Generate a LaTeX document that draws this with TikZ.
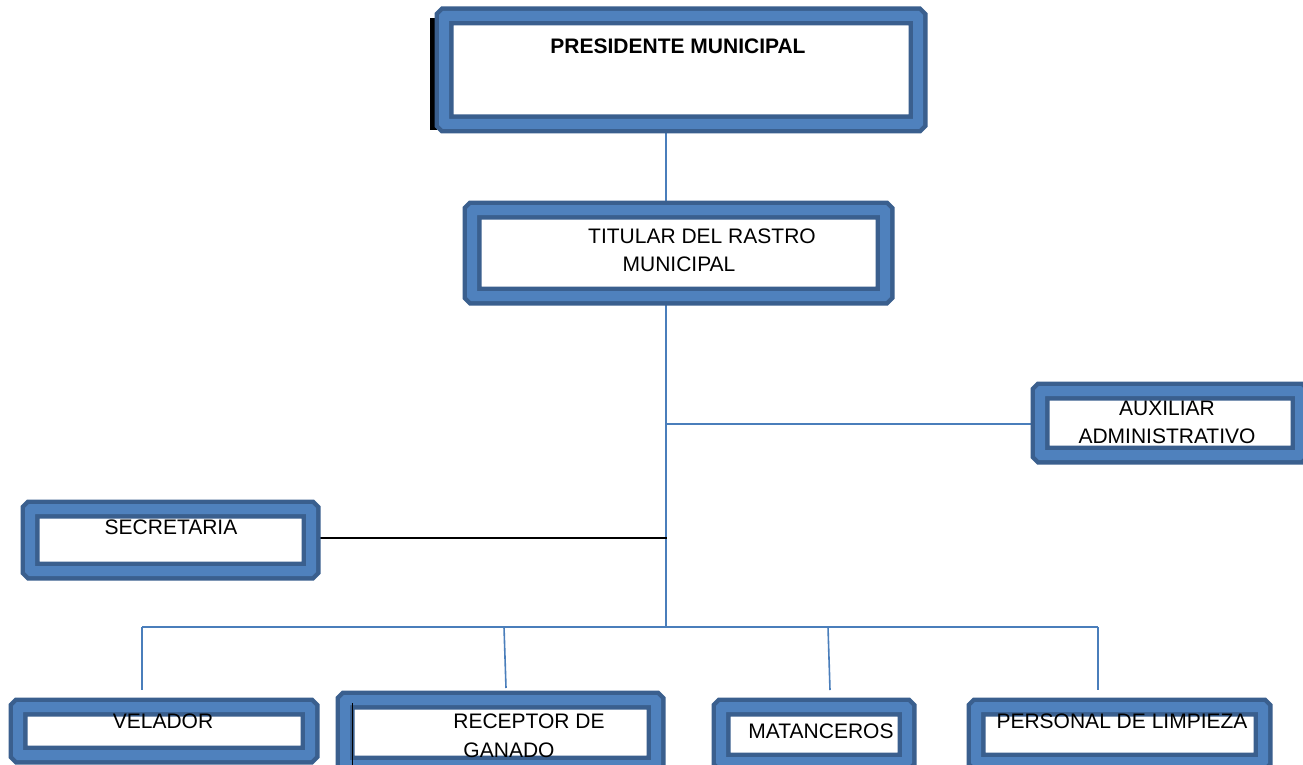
\documentclass[tikz,border=0pt]{standalone}
\usepackage{fontspec}
\setmainfont{Liberation Sans}
\usetikzlibrary{backgrounds}
\definecolor{bdark}{HTML}{3A5F8E}
\definecolor{blight}{HTML}{4F81BD}
\definecolor{lineblue}{HTML}{4A7EBB}
\begin{document}
\begin{tikzpicture}[x=1pt,y=-1pt,
  obox/.style={draw=bdark, line width=4.5pt, double=blight, double distance=10pt,
    fill=white, inner sep=0pt, rectangle, rounded corners=1pt},
  conn/.style={draw=lineblue, line width=1.6pt},
  blackconn/.style={draw=black, line width=1.6pt},
  lbl/.style={font=\fontsize{21}{28}\selectfont, inner sep=0pt, anchor=center}]
\useasboundingbox (0,0) rectangle (1303,765);
\clip (0,0) rectangle (1303,765);

% spine and junction coordinates
\coordinate (spine) at (666,0);
\coordinate (jaux) at (666,424);
\coordinate (jsec) at (667,538);
\coordinate (jbus) at (666,627);
\coordinate (b1) at (142,627);
\coordinate (b2) at (504,627);
\coordinate (b3) at (828,627);
\coordinate (b4) at (1098,627);
\coordinate (d1) at (142,690);
\coordinate (d2) at (506,688);
\coordinate (d3) at (830,690);
\coordinate (d4) at (1098,690);

% boxes
\fill[black] (430,18) rectangle (437,130);
\node[obox, minimum width=474pt, minimum height=108pt] (pres) at (681,70) {};
\node[obox, minimum width=413pt, minimum height=86pt] (tit) at (678.5,253) {};
\node[obox, minimum width=260pt, minimum height=64pt] (aux) at (1170,423) {};
\node[obox, minimum width=281pt, minimum height=62pt] (sec) at (170.5,540) {};
\node[obox, minimum width=292pt, minimum height=48pt] (vel) at (164,731) {};
\node[obox, minimum width=311pt, minimum height=65pt] (rec) at (500.5,732.5) {};
\node[obox, minimum width=186pt, minimum height=55pt] (mat) at (814,734.5) {};
\node[obox, minimum width=287pt, minimum height=55pt] (per) at (1119.5,734.5) {};

% connectors (behind boxes)
\begin{scope}[on background layer]
\fill[white] (0,0) rectangle (1303,765);
\draw[conn] (pres.south -| spine) -- (tit.north -| spine);
\draw[conn] (tit.south -| spine) -- (jbus);
\draw[conn] (jaux) -- (aux.west |- jaux);
\draw[blackconn] (sec.east |- jsec) -- (jsec);
\draw[conn] (b1) -- (b4);
\draw[conn] (b1) -- (d1);
\draw[conn] (b2) -- (d2);
\draw[conn] (b3) -- (d3);
\draw[conn] (b4) -- (d4);
\end{scope}

\draw[black, line width=1pt] (352,703) -- (352,765);

% texts
\node[lbl, font=\fontsize{21}{28}\selectfont\bfseries] (tpres) at (678,46) {PRESIDENTE MUNICIPAL};
\node[lbl] (ttit1) at (702,236) {TITULAR DEL RASTRO};
\node[lbl] (ttit2) at (679,264) {MUNICIPAL};
\node[lbl] (taux1) at (1167,408) {AUXILIAR};
\node[lbl] (taux2) at (1167,436) {ADMINISTRATIVO};
\node[lbl] (tsec) at (171,527) {SECRETARIA};
\node[lbl] (tvel) at (163,721) {VELADOR};
\node[lbl] (trec1) at (529,721) {RECEPTOR DE};
\node[lbl] (trec2) at (509,750) {GANADO};
\node[lbl] (tmat) at (821,731) {MATANCEROS};
\node[lbl] (tper) at (1122,721) {PERSONAL DE LIMPIEZA};
\end{tikzpicture}
\end{document}
